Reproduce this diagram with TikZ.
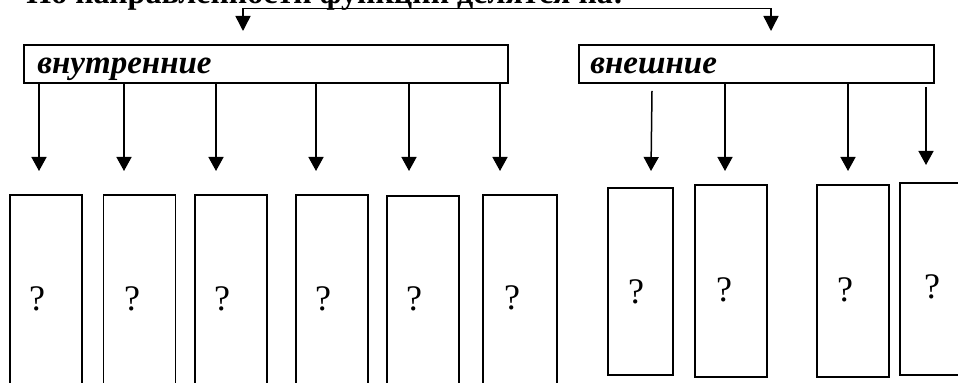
\documentclass[tikz,border=0pt]{standalone}
\usepackage{fontspec}
\setmainfont{Liberation Serif}
\usetikzlibrary{arrows.meta}

\begin{document}
\begin{tikzpicture}[x=0.5pt,y=-0.5pt,
  bigbox/.style={draw,line width=1.1pt,minimum height=19pt,inner sep=0pt},
  cell/.style={draw,line width=0.9pt,inner sep=0pt,minimum width=36pt},
  arr/.style={line width=0.75pt,-{Triangle[length=7pt,width=7.5pt]}},
  qm/.style={font=\fontsize{18}{20}\selectfont,inner sep=0pt},
  lbl/.style={anchor=base west,font=\fontsize{16.5}{18}\selectfont\bfseries\itshape,inner sep=0pt}]
\useasboundingbox (0,0) rectangle (958,383);
\clip (0,0) rectangle (958,383);

% title, cut at the top edge
\node[anchor=base west,font=\fontsize{16}{18}\selectfont\bfseries,inner sep=0pt] (title) at (26,3.5) {По направленности функции делятся на:};

% the two groups
\node[bigbox,minimum width=242pt] (inner) at (266,64) {};
\node[bigbox,minimum width=177.5pt] (outer) at (756.5,64) {};
\node[lbl] (innerlbl) at (37,74) {внутренние};
\node[lbl] (outerlbl) at (590,74) {внешние};

\coordinate (ti) at (243,31);
\coordinate (te) at (771,31);
\coordinate (top) at (507,8.5);
\draw[line width=0.75pt,{Triangle[length=7.5pt,width=7.5pt]}-{Triangle[length=7.5pt,width=7.5pt]}] (ti) |- (top) -| (te);

% cells of the first group
\node[cell,minimum height=110pt] (b1) at (46,305) {};
\node[cell,minimum height=110pt] (b2) at (139.5,305) {};
\node[cell,minimum height=110pt] (b3) at (231,305) {};
\node[cell,minimum height=110pt] (b4) at (332,305) {};
\node[cell,minimum height=110pt] (b5) at (423,306) {};
\node[cell,minimum height=110pt,minimum width=37pt] (b6) at (520,305) {};

% cells of the second group
\node[cell,minimum height=93.5pt,minimum width=32.5pt] (b7) at (640.5,281.5) {};
\node[cell,minimum height=96pt] (b8) at (731,281) {};
\node[cell,minimum height=96pt] (b9) at (853,281) {};
\node[cell,minimum height=96pt] (b10) at (936,279) {};

\node[qm] (q1) at (37,299) {?};
\node[qm] (q2) at (132,299) {?};
\node[qm] (q3) at (222,299) {?};
\node[qm] (q4) at (323,299) {?};
\node[qm] (q5) at (414,299) {?};
\node[qm] (q6) at (512,298) {?};
\node[qm] (q7) at (636,292) {?};
\node[qm] (q8) at (724,290) {?};
\node[qm] (q9) at (845,290) {?};
\node[qm] (q10) at (932,287) {?};

% arrows
\coordinate (t1) at (39,171);
\coordinate (t2) at (124,171);
\coordinate (t3) at (216,171);
\coordinate (t4) at (316,171);
\coordinate (t5) at (409,171);
\coordinate (t6) at (500,171);
\draw[arr] (inner.south -| t1) -- (t1);
\draw[arr] (inner.south -| t2) -- (t2);
\draw[arr] (inner.south -| t3) -- (t3);
\draw[arr] (inner.south -| t4) -- (t4);
\draw[arr] (inner.south -| t5) -- (t5);
\draw[arr] (inner.south -| t6) -- (t6);

\coordinate (s7) at (652,91);
\coordinate (t7) at (651,171);
\coordinate (t8) at (725,171);
\coordinate (t9) at (848,171);
\coordinate (s10) at (926,87);
\coordinate (t10) at (926,165);
\draw[arr] (s7) -- (t7);
\draw[arr] (outer.south -| t8) -- (t8);
\draw[arr] (outer.south -| t9) -- (t9);
\draw[arr] (s10) -- (t10);

\end{tikzpicture}
\end{document}
